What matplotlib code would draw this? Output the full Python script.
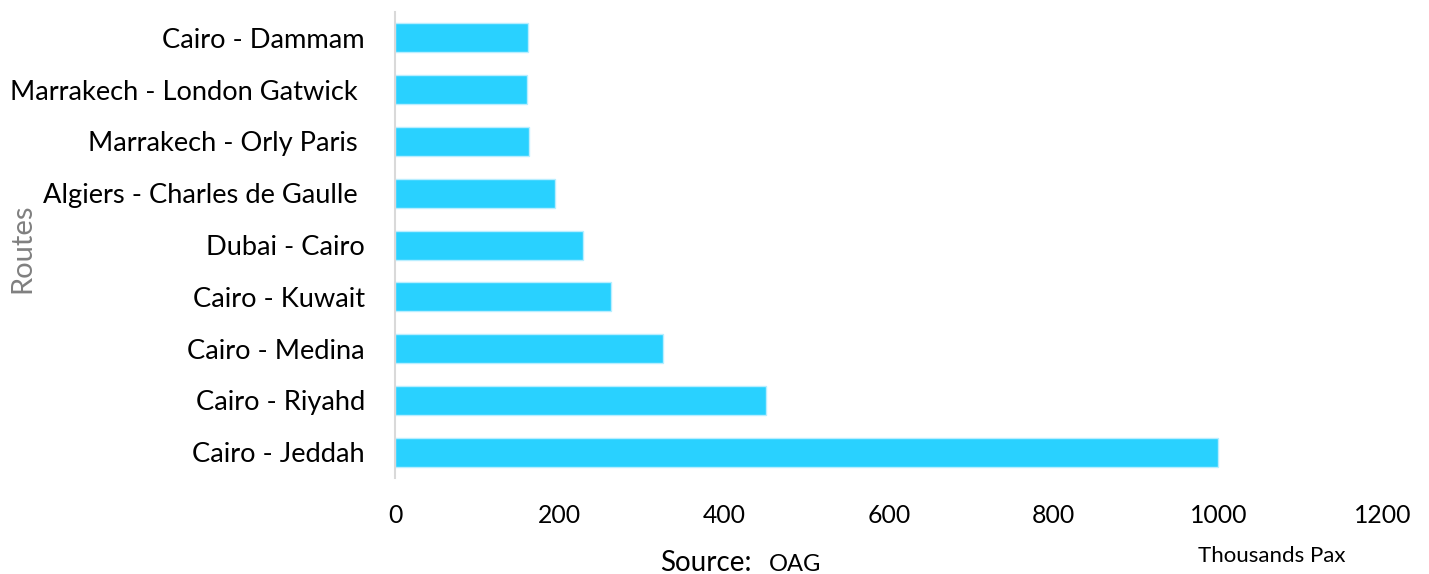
import matplotlib
matplotlib.use("Agg")
import matplotlib.pyplot as plt

plt.rcParams['font.family'] = ['Lato', 'DejaVu Sans']

routes = ["Cairo - Jeddah", "Cairo - Riyahd", "Cairo - Medina", "Cairo - Kuwait",
          "Dubai - Cairo", "Algiers - Charles de Gaulle ", "Marrakech - Orly Paris ",
          "Marrakech - London Gatwick ", "Cairo - Dammam"]
pax = [1000, 451, 325, 262, 228, 194, 163, 160, 161]
xticks = [0, 200, 400, 600, 800, 1000, 1200]

bar_color = "#29D1FF"

fig = plt.figure(figsize=(14.29, 5.74), dpi=100)
ax = fig.add_axes([0.2764, 0.1672, 0.6914, 0.8118])

ypos = list(range(len(routes)))
ax.barh(ypos, pax, height=0.56, color=bar_color, edgecolor="#B8EEFF", linewidth=1)

ax.set_ylim(-0.5, len(routes) - 0.5)
ax.set_xlim(0, 1200)
ax.set_yticks(ypos)
ax.set_yticklabels(routes, fontsize=19.6)
ax.set_xticks(xticks)
ax.set_xticklabels([str(t) for t in xticks], fontsize=17.8)
ax.tick_params(axis='both', length=0)
ax.tick_params(axis='y', pad=21.5)
ax.tick_params(axis='x', pad=19)

for s in ["top", "right", "bottom"]:
    ax.spines[s].set_visible(False)
ax.spines["left"].set_color("#D9D9D9")
ax.spines["left"].set_linewidth(1.5)

fig.text(0.0155, 0.568, "Routes", rotation=90, fontsize=21, color="#808080",
         ha="center", va="center")
fig.text(0.462, 0.005, "Source:", fontsize=20, ha="left", va="baseline")
fig.text(0.538, 0.006, "OAG", fontsize=17, ha="left", va="baseline")
fig.text(0.838, 0.021, "Thousands Pax", fontsize=16, ha="left", va="baseline")

fig.savefig("out.png", dpi=100, facecolor="white")
